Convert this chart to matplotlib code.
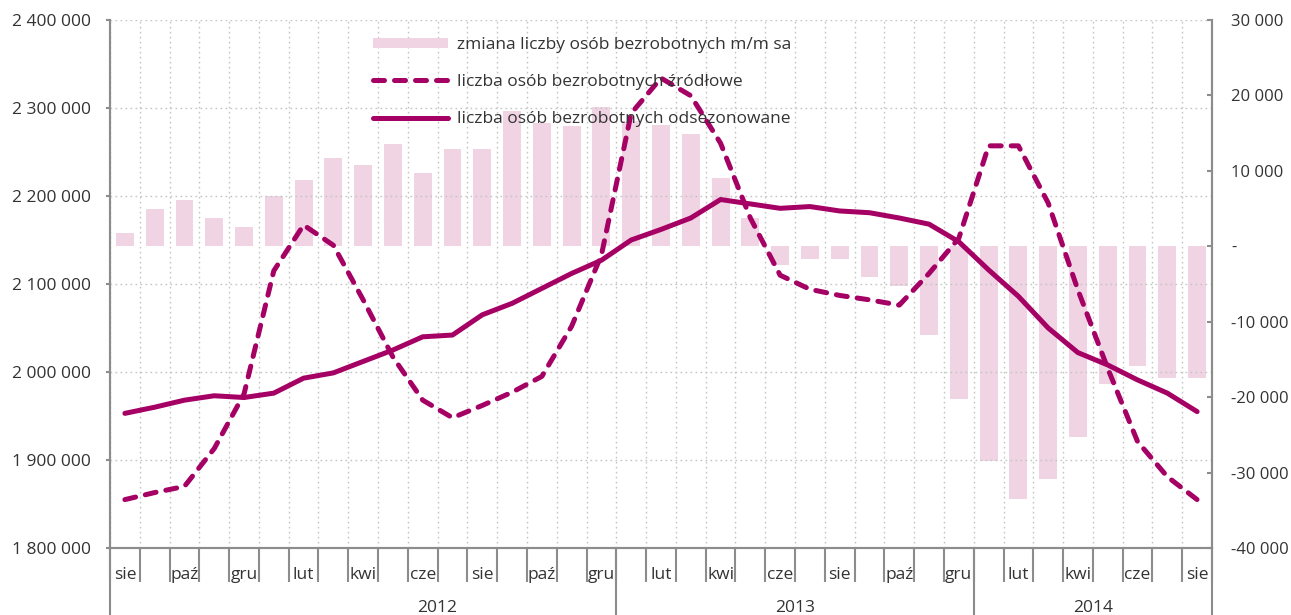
import numpy as np
import matplotlib
matplotlib.use('Agg')
import matplotlib.pyplot as plt
import matplotlib.transforms as mtransforms

plt.rcParams['font.family'] = ['Open Sans', 'DejaVu Sans']

# miesiace od sierpnia 2011 do sierpnia 2014
miesiace = ['sie', 'wrz', 'paź', 'lis', 'gru',
            'sty', 'lut', 'mar', 'kwi', 'maj', 'cze', 'lip', 'sie', 'wrz', 'paź', 'lis', 'gru',
            'sty', 'lut', 'mar', 'kwi', 'maj', 'cze', 'lip', 'sie', 'wrz', 'paź', 'lis', 'gru',
            'sty', 'lut', 'mar', 'kwi', 'maj', 'cze', 'lip', 'sie']
lata = ['2012', '2013', '2014']
lata_od = [4.5, 16.5, 28.5]
lata_do = [16.5, 28.5, 36.5]

# zmiana liczby osob bezrobotnych m/m sa (prawa os)
zmiana = [1700, 5000, 6150, 3800, 2600,
          6700, 8800, 11700, 10800, 13500, 9700, 12900, 12900, 17900, 16400, 15900, 18500,
          16600, 16100, 14900, 9100, 3800, -2500, -1700, -1700, -4100, -5250, -11800, -20300,
          -28500, -33500, -30900, -25300, -18200, -15900, -17400, -17400]

# liczba osob bezrobotnych zrodlowe (lewa os)
zrodlowe = [1855000, 1863000, 1870000, 1913000, 1975000,
            2115000, 2167000, 2144000, 2082000, 2017000, 1968000, 1948000, 1962000, 1977000,
            1995000, 2052000, 2133000,
            2294000, 2334000, 2314000, 2260000, 2175000, 2110000, 2094000, 2087000, 2082000,
            2076000, 2112000, 2152000,
            2257000, 2257000, 2192000, 2093000, 2004000, 1921000, 1881000, 1855000]

# liczba osob bezrobotnych odsezonowane (lewa os)
odsezonowane = [1953000, 1960000, 1968000, 1973000, 1971000,
                1976000, 1993000, 1999000, 2012000, 2025000, 2040000, 2042000, 2065000,
                2078000, 2095000, 2112000, 2127000,
                2150000, 2162000, 2175000, 2196000, 2191000, 2186000, 2188000, 2183000,
                2181000, 2175000, 2168000, 2148000,
                2116000, 2086000, 2050000, 2022000, 2008000, 1991000, 1976000, 1955000]

lewe_ticki = [1800000, 1900000, 2000000, 2100000, 2200000, 2300000, 2400000]
prawe_ticki = [-40000, -30000, -20000, -10000, 0, 10000, 20000, 30000]

kolor_linii = '#A50064'
kolor_slupkow = '#F0D4E3'
szary = '#8C8C8C'
tekst = '#333333'
rozmiar = 12.5


def fmt(v):
    if v == 0:
        return '-'
    s = '{:,}'.format(int(abs(v))).replace(',', ' ')
    return ('-' if v < 0 else '') + s


x = np.arange(len(miesiace))

fig = plt.figure(figsize=(12.91, 6.15), dpi=100)
ax = fig.add_axes([110 / 1291, 67 / 615, 1102 / 1291, 528 / 615])
ax2 = ax.twinx()
ax.set_zorder(ax2.get_zorder() + 1)
ax.patch.set_visible(False)

# slupki na prawej osi
bary = ax2.bar(x, zmiana, width=0.6, color=kolor_slupkow, linewidth=0,
               label='zmiana liczby osób bezrobotnych m/m sa')
ax2.set_ylim(-40000, 30000)
ax2.set_yticks(prawe_ticki)
ax2.set_yticklabels([fmt(v) for v in prawe_ticki])
for t in ax2.get_yticklabels():
    t.set_horizontalalignment('left')

# linie na lewej osi
l1, = ax.plot(x, zrodlowe, color=kolor_linii, lw=3.6, linestyle=(0, (2.2, 2.0)),
              dash_capstyle='round', solid_joinstyle='round',
              label='liczba osób bezrobotnych źródłowe')
l2, = ax.plot(x, odsezonowane, color=kolor_linii, lw=3.6, solid_capstyle='round',
              solid_joinstyle='round', label='liczba osób bezrobotnych odsezonowane')
ax.set_ylim(1800000, 2400000)
ax.set_yticks(lewe_ticki)
ax.set_yticklabels([fmt(v) for v in lewe_ticki])
ax.set_xlim(-0.5, len(miesiace) - 0.5)
ax.set_xticks(np.arange(-0.5, len(miesiace), 1.0))
ax.set_xticklabels([])

# siatka kropkowana
ax.grid(True, color='#C4C4C4', linestyle=(0, (1.2, 2.4)), linewidth=1.0)
ax2.grid(False)

for a in (ax, ax2):
    for s in a.spines.values():
        s.set_color(szary)
        s.set_linewidth(1.5)
    a.spines['top'].set_visible(False)

ax.tick_params(axis='y', direction='out', length=3, width=1.5, color=szary,
               labelsize=rozmiar, labelcolor=tekst, pad=11)
ax2.tick_params(axis='y', direction='in', length=3.6, width=1.5, color=szary,
                labelsize=12, labelcolor=tekst, pad=14)
ax.tick_params(axis='x', direction='out', length=24.5, width=1.5, color=szary)

# podpisy miesiecy i lat
tr = mtransforms.blended_transform_factory(ax.transData, ax.transAxes)
for i in range(0, len(miesiace), 2):
    ax.text(x[i], -0.0587, miesiace[i], transform=tr, ha='center', va='baseline',
            fontsize=rozmiar, color=tekst)
for rok, a0, a1 in zip(lata, lata_od, lata_do):
    ax.text((a0 + a1) / 2, -0.121, rok, transform=tr, ha='center', va='baseline',
            fontsize=rozmiar, color=tekst)
for xs in [-0.5] + lata_do:
    ax.plot([xs, xs], [0, -0.14], transform=tr, color=szary, lw=1.5, clip_on=False)

ax.legend([bary, l1, l2], [bary.get_label(), l1.get_label(), l2.get_label()],
          loc='upper left', bbox_to_anchor=(373 / 1291, 1 - 37 / 615),
          bbox_transform=fig.transFigure, frameon=False, fontsize=rozmiar,
          handlelength=4.3, handleheight=0.55, handletextpad=0.55,
          labelspacing=1.22, borderpad=0, borderaxespad=0, labelcolor=tekst)

fig.savefig('out.png', dpi=100)
